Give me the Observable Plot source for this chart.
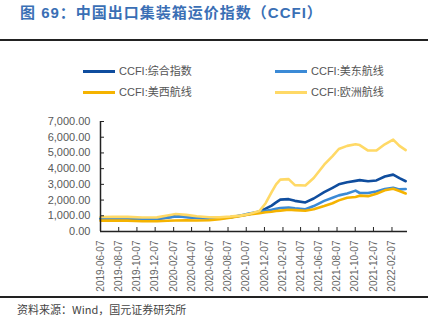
<!DOCTYPE html>
<html><head><meta charset="utf-8">
<script src="https://cdn.jsdelivr.net/npm/d3@7"></script>
<script src="https://cdn.jsdelivr.net/npm/@observablehq/plot@0.6"></script>
<style>
body{margin:0;background:#fff;}
#wrap{position:relative;width:443px;height:324px;overflow:hidden;font-family:"Liberation Sans","Noto Sans CJK SC",sans-serif;}
#title{position:absolute;left:20px;top:1px;font-size:15px;font-weight:bold;color:#3a6fb5;letter-spacing:1px;white-space:nowrap;}
.rule{position:absolute;left:0;width:428px;height:1.5px;background:#222;}
.leg{position:absolute;font-size:11px;color:#555;white-space:nowrap;line-height:14px;}
.leg span{display:inline-block;width:32px;height:3px;vertical-align:middle;margin-right:4px;position:relative;top:-1px;}
#src{position:absolute;left:17px;top:301px;font-size:11px;color:#444;white-space:nowrap;font-family:"Noto Sans CJK SC",sans-serif;}
#chart{position:absolute;left:0;top:100px;}
</style></head>
<body><div id="wrap">
<div id="title">图 69：中国出口集装箱运价指数（CCFI）</div>
<div class="rule" style="top:39px"></div>
<div id="legend"></div>
<div id="chart"></div>
<div class="rule" style="top:296px"></div>
<div id="src">资料来源：Wind，国元证券研究所</div>
</div>
<script>
const dates = ["2019-06-07","2019-07-19","2019-09-06","2019-10-25","2019-12-13","2020-01-17","2020-02-14","2020-03-20","2020-04-24","2020-06-05","2020-07-10","2020-08-14","2020-09-18","2020-10-16","2020-11-20","2020-12-11","2020-12-31","2021-01-15","2021-01-29","2021-02-26","2021-03-19","2021-04-23","2021-05-21","2021-06-25","2021-07-23","2021-08-13","2021-09-10","2021-10-08","2021-10-22","2021-11-19","2021-12-17","2022-01-14","2022-02-11","2022-03-04","2022-03-25"];
const composite = [820,840,835,790,800,900,980,930,880,840,860,910,1000,1100,1280,1450,1650,1850,2030,2060,1950,1850,2100,2500,2780,3000,3130,3220,3270,3200,3250,3500,3620,3400,3200];
const usEast = [830,840,840,800,810,880,960,920,870,830,850,900,1020,1140,1250,1320,1380,1440,1500,1530,1470,1420,1620,1950,2150,2300,2420,2600,2450,2450,2550,2700,2780,2680,2700];
const usWest = [690,700,690,650,650,680,700,710,700,720,790,870,990,1080,1160,1220,1260,1300,1330,1380,1360,1320,1420,1620,1800,1980,2150,2200,2280,2250,2400,2620,2720,2580,2420];
const europe = [920,940,930,890,900,1020,1110,1060,970,910,910,950,1010,1120,1300,1800,2500,3000,3300,3330,2950,2930,3400,4250,4800,5250,5450,5550,5500,5150,5150,5550,5850,5450,5180];
const seriesNames = ["CCFI:综合指数","CCFI:美东航线","CCFI:美西航线","CCFI:欧洲航线"];
const seriesColors = ["#0f4d9e","#3b8ad6","#f5b300","#ffd966"];
const xTickLabels = ["2019-06-07","2019-08-07","2019-10-07","2019-12-07","2020-02-07","2020-04-07","2020-06-07","2020-08-07","2020-10-07","2020-12-07","2021-02-07","2021-04-07","2021-06-07","2021-08-07","2021-10-07","2021-12-07","2022-02-07"];
const yTicks = [0,1000,2000,3000,4000,5000,6000,7000];

const parse = d3.utcParse("%Y-%m-%d");
const valuesBySeries = [composite, usEast, usWest, europe];
const data = [];
valuesBySeries.forEach((vals, si) => vals.forEach((v, i) => data.push({date: parse(dates[i]), value: v, series: seriesNames[si]})));
const xTicks = xTickLabels.map(parse);

// legend (2 x 2 grid)
const legend = document.getElementById("legend");
const legPos = [[83,64],[275,64],[83,85],[275,85]];
seriesNames.forEach((n, i) => {
  const d = document.createElement("div");
  d.className = "leg";
  d.style.left = legPos[i][0] + "px";
  d.style.top = legPos[i][1] + "px";
  d.innerHTML = `<span style="background:${seriesColors[i]}"></span>${n}`;
  legend.appendChild(d);
});

const plot = Plot.plot({
  width: 443,
  height: 195,
  marginLeft: 100,
  marginRight: 36,
  marginTop: 21,
  marginBottom: 64,
  style: {fontFamily: "Liberation Sans, Arial, sans-serif", background: "transparent"},
  x: {type: "utc", domain: [parse("2019-06-07"), parse("2022-03-31")]},
  y: {domain: [0, 7000]},
  color: {domain: seriesNames, range: seriesColors},
  marks: [
    Plot.line(data, {x: "date", y: "value", z: "series", stroke: "series", strokeWidth: 2.6, curve: "linear"}),
    Plot.axisY({ticks: yTicks, tickSize: -4, text: null, stroke: "#222", label: null}),
    Plot.axisY({ticks: yTicks, tickSize: 0, tickPadding: 10, tickFormat: d3.format(",.2f"), fontSize: 11, fill: "#595959", label: null}),
    Plot.axisX({ticks: xTicks, tickSize: -4, text: null, stroke: "#222", label: null}),
    Plot.axisX({ticks: xTicks, tickSize: 0, tickPadding: 9, tickRotate: -90, tickFormat: d3.utcFormat("%Y-%m-%d"), fontSize: 10, fill: "#666", label: null}),
    Plot.ruleY([0], {stroke: "#222", strokeWidth: 1.5}),
    Plot.ruleX([parse("2019-06-07")], {stroke: "#222", strokeWidth: 1.5})
  ]
});
document.getElementById("chart").appendChild(plot);
</script>
</body></html>
